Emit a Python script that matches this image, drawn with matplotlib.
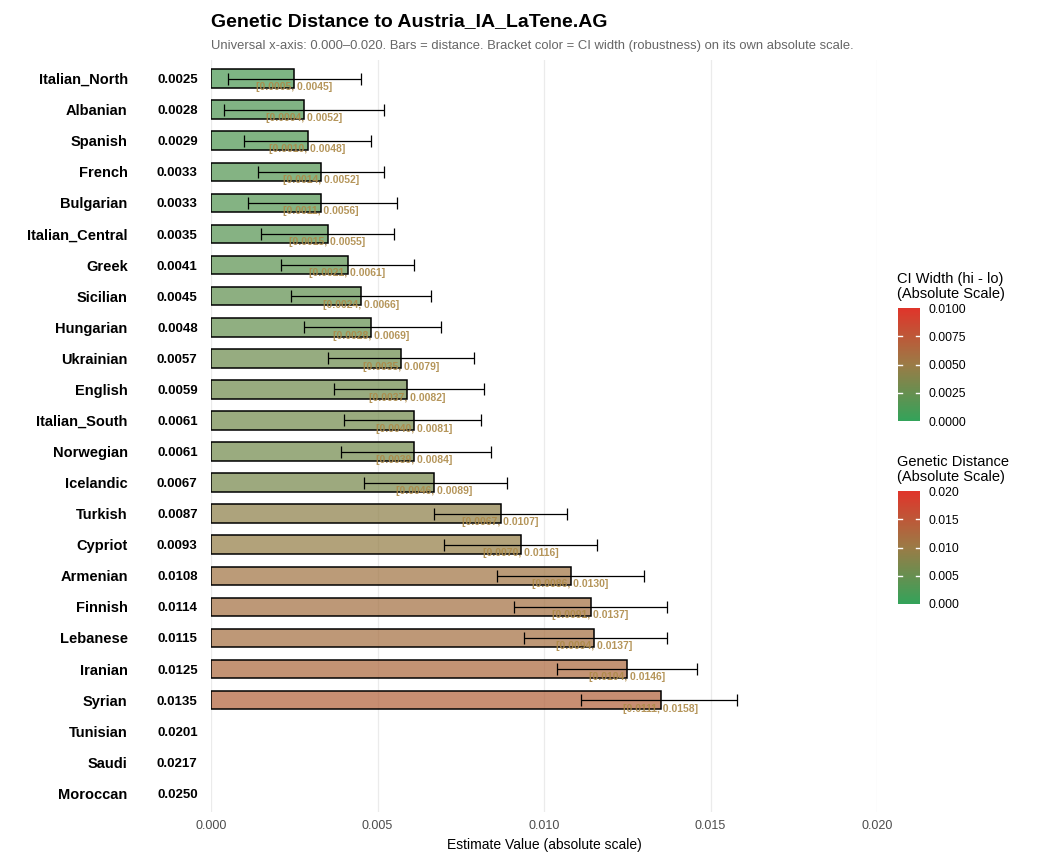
import numpy as np
import matplotlib
matplotlib.use("Agg")
import matplotlib.pyplot as plt
from matplotlib.colors import LinearSegmentedColormap, Normalize
from matplotlib.cm import ScalarMappable

plt.rcParams['font.family'] = ['Liberation Sans', 'DejaVu Sans']

# data
populations = ["Italian_North", "Albanian", "Spanish", "French", "Bulgarian",
               "Italian_Central", "Greek", "Sicilian", "Hungarian", "Ukrainian",
               "English", "Italian_South", "Norwegian", "Icelandic", "Turkish",
               "Cypriot", "Armenian", "Finnish", "Lebanese", "Iranian", "Syrian",
               "Tunisian", "Saudi", "Moroccan"]
distance = [0.0025, 0.0028, 0.0029, 0.0033, 0.0033, 0.0035, 0.0041, 0.0045,
            0.0048, 0.0057, 0.0059, 0.0061, 0.0061, 0.0067, 0.0087, 0.0093,
            0.0108, 0.0114, 0.0115, 0.0125, 0.0135, 0.0201, 0.0217, 0.0250]
ci_lo = [0.0005, 0.0004, 0.0010, 0.0014, 0.0011, 0.0015, 0.0021, 0.0024,
         0.0028, 0.0035, 0.0037, 0.0040, 0.0039, 0.0046, 0.0067, 0.0070,
         0.0086, 0.0091, 0.0094, 0.0104, 0.0111, np.nan, np.nan, np.nan]
ci_hi = [0.0045, 0.0052, 0.0048, 0.0052, 0.0056, 0.0055, 0.0061, 0.0066,
         0.0069, 0.0079, 0.0082, 0.0081, 0.0084, 0.0089, 0.0107, 0.0116,
         0.0130, 0.0137, 0.0137, 0.0146, 0.0158, np.nan, np.nan, np.nan]
x_ticks = [0.000, 0.005, 0.010, 0.015, 0.020]
ci_ticks = [0.0, 0.0025, 0.005, 0.0075, 0.01]
dist_ticks = [0.0, 0.005, 0.010, 0.015, 0.020]

X_MAX = 0.02
CI_MAX = 0.01

cmap = LinearSegmentedColormap.from_list("gr", ["#33a35a", "#9b7b46", "#e0342a"])

fig = plt.figure(figsize=(10.51, 8.64), dpi=100)
ax = fig.add_axes([211 / 1051, 52 / 864, 666 / 1051, 752 / 864])

dist = np.array(distance)
lo = np.array(ci_lo)
hi = np.array(ci_hi)
y = np.arange(len(populations))
shown = dist <= X_MAX

norm = Normalize(0, X_MAX)
fills = cmap(norm(dist[shown]))
fills[:, 3] = 0.72
ax.barh(y[shown], dist[shown], height=0.6, color=fills,
        edgecolor="black", linewidth=1.1, zorder=2)
ax.errorbar(dist[shown], y[shown], xerr=[dist[shown] - lo[shown], hi[shown] - dist[shown]],
            fmt="none", ecolor="black", elinewidth=0.9, capsize=4, capthick=0.9, zorder=3)

for yi, d, l, h in zip(y[shown], dist[shown], lo[shown], hi[shown]):
    ax.text(d, yi + 0.27, f"[{l:.4f}, {h:.4f}]", ha="center", va="center",
            fontsize=7.5, fontweight="bold", color="#ad8a48", alpha=0.9, zorder=4)

for yi, d in zip(y, dist):
    ax.text(-0.0004, yi, f"{d:.4f}", ha="right", va="center_baseline", fontsize=9.5,
            fontweight="bold", color="black", clip_on=False)

ax.set_xlim(0, X_MAX)
ax.set_ylim(len(populations) - 0.4, -0.6)
ax.set_yticks(y)
ax.set_yticklabels(populations, fontsize=10.5, fontweight="bold")
ax.set_xticks(x_ticks)
ax.set_xticklabels([f"{t:.3f}" for t in x_ticks], fontsize=9, color="#4d4d4d")
ax.tick_params(axis="y", length=0, pad=60)
ax.tick_params(axis="x", length=0, pad=6)
ax.grid(axis="x", color="#ebebeb", linewidth=0.9, zorder=0)
ax.set_axisbelow(True)
for s in ax.spines.values():
    s.set_visible(False)
ax.set_xlabel("Estimate Value (absolute scale)", fontsize=10, labelpad=4)

fig.text(211 / 1051, 1 - 22 / 864, "Genetic Distance to Austria_IA_LaTene.AG",
         fontsize=14, fontweight="bold", va="center", ha="left")
fig.text(211 / 1051, 1 - 46 / 864,
         "Universal x-axis: 0.000\u20130.020. Bars = distance. Bracket color = CI width (robustness) on its own absolute scale.",
         fontsize=9.4, color="#666666", va="center", ha="left")


def add_colorbar(bottom_px, top_px, vmax, ticks, fmt, title):
    cax = fig.add_axes([898 / 1051, 1 - bottom_px / 864, 22 / 1051, (bottom_px - top_px) / 864])
    cb = fig.colorbar(ScalarMappable(norm=Normalize(0, vmax), cmap=cmap), cax=cax, ticks=ticks)
    cb.outline.set_visible(False)
    cax.set_yticklabels([fmt.format(t) for t in ticks], fontsize=8.8)
    cax.tick_params(length=0, pad=6)
    for t in ticks[1:-1]:
        cax.plot([0, 0.2], [t, t], color="white", lw=1, transform=cax.get_yaxis_transform())
        cax.plot([0.8, 1.0], [t, t], color="white", lw=1, transform=cax.get_yaxis_transform())
    fig.text(897 / 1051, 1 - (top_px - 7) / 864, title, fontsize=10.5,
             va="bottom", ha="left", linespacing=1.1)


add_colorbar(421, 308, CI_MAX, ci_ticks, "{:.4f}", "CI Width (hi - lo)\n(Absolute Scale)")
add_colorbar(604, 491, X_MAX, dist_ticks, "{:.3f}", "Genetic Distance\n(Absolute Scale)")

fig.savefig("out.png", dpi=100)
